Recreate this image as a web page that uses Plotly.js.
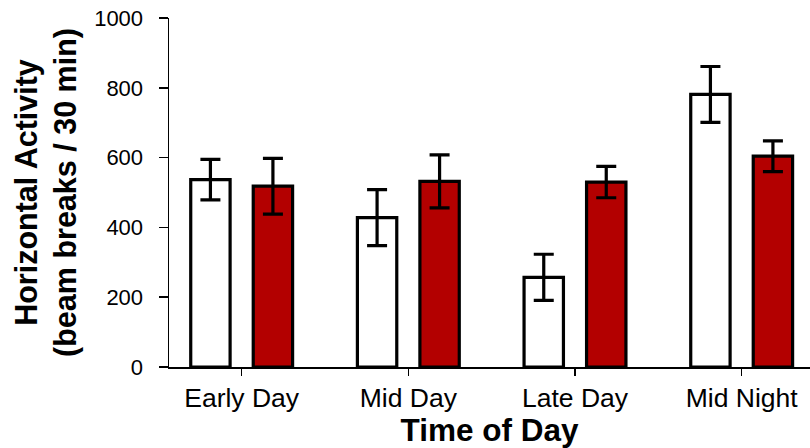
<!DOCTYPE html>
<html>
<head>
<meta charset="utf-8">
<script src="https://cdn.plot.ly/plotly-3.0.1.min.js"></script>
<style>html,body{margin:0;padding:0;background:#fff;}#chart{width:810px;height:448px;}</style>
</head>
<body>
<div id="chart"></div>
<script>
const categories = ["Early Day", "Mid Day", "Late Day", "Mid Night"];
const groupAValues = [537, 428, 257, 781];
const groupAErrors = [58, 80, 66, 80];
const groupBValues = [518, 532, 530, 604];
const groupBErrors = [80, 76, 45, 44];
const yTickValues = [0, 200, 400, 600, 800, 1000];

const font = "Liberation Sans, Arial, sans-serif";

const traces = [
  {
    type: "bar", x: categories, y: groupAValues, name: "A",
    marker: {color: "#ffffff", line: {color: "#000000", width: 3.2}},
    error_y: {type: "data", array: groupAErrors, visible: true, color: "#000000", thickness: 3.2, width: 10}
  },
  {
    type: "bar", x: categories, y: groupBValues, name: "B",
    marker: {color: "#b30000", line: {color: "#000000", width: 3.2}},
    error_y: {type: "data", array: groupBErrors, visible: true, color: "#000000", thickness: 3.2, width: 10}
  }
];

const layout = {
  width: 810, height: 448,
  margin: {l: 169, r: 0, t: 18, b: 81},
  paper_bgcolor: "#ffffff", plot_bgcolor: "#ffffff",
  showlegend: false,
  barmode: "group", bargap: 0.25, bargroupgap: 0.37,
  font: {family: font, color: "#000000"},
  xaxis: {
    type: "category",
    range: [-0.436, 3.41],
    showline: true, linecolor: "#000000", linewidth: 1.5,
    ticks: "outside", ticklen: 7, tickwidth: 1.5, tickcolor: "#000000",
    tickfont: {size: 26.5, family: font, color: "#000000"},
    showgrid: false, zeroline: false,
    title: {text: "<b>Time of Day</b>", font: {size: 31.5, family: font, color: "#000000"}, standoff: 0}
  },
  yaxis: {
    range: [0, 1000],
    tickvals: yTickValues,
    showline: true, linecolor: "#000000", linewidth: 1.5,
    ticks: "outside", ticklen: 9, tickwidth: 1.5, tickcolor: "#000000",
    tickfont: {size: 22, family: font, color: "#000000"},
    ticklabelstandoff: 11,
    showgrid: false, zeroline: false,
    title: {text: "<b>Horizontal Activity<br>(beam breaks / 30 min)</b>", font: {size: 30.5, family: font, color: "#000000"}, standoff: 8}
  }
};

Plotly.newPlot("chart", traces, layout, {displayModeBar: false, staticPlot: true});
</script>
</body>
</html>
